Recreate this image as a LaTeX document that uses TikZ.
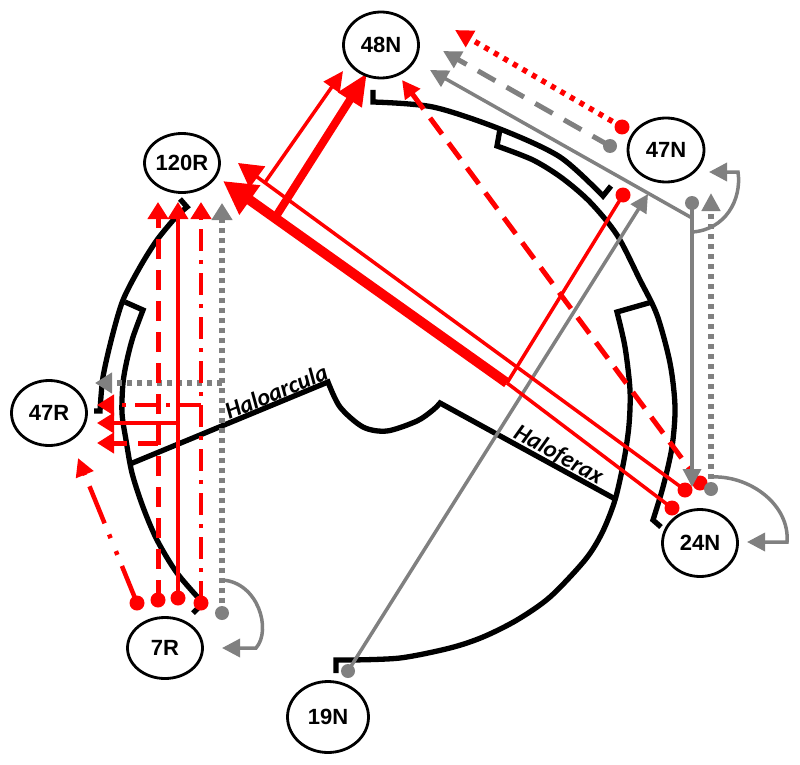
\documentclass[tikz,border=0pt]{standalone}
\usepackage{fontspec}
\setmainfont{Liberation Sans}
\newfontfamily\carl{Carlito}
\usetikzlibrary{arrows.meta,calc,shapes.geometric}
\definecolor{myred}{RGB}{255,0,0}
\definecolor{mygray}{RGB}{128,128,128}
\begin{document}
\begin{tikzpicture}[x=1pt,y=-1pt,
  arcline/.style={line width=5.3pt, black, line join=miter},
  lab/.style={draw, line width=2.8pt, ellipse, fill=white, font=\bfseries\fontsize{22pt}{22pt}\selectfont, minimum width=75pt, minimum height=64pt, inner sep=0pt},
  gen/.style={font=\carl\bfseries\itshape\fontsize{24pt}{24pt}\selectfont, inner sep=1.5pt, anchor=south},
  rdot/.style={circle, fill=myred, minimum size=15pt, inner sep=0pt},
  gdot/.style={circle, fill=mygray, minimum size=14pt, inner sep=0pt},
  tip/.style={-{Triangle[length=18pt,width=18pt]}},
  vtip/.style={-{Triangle[length=17pt,width=20pt]}},
  rline/.style={myred, line width=3.5pt},
  gline/.style={mygray, line width=3.5pt},
  rdashed/.style={myred, line width=5pt, dash pattern=on 20pt off 11pt},
  gdashed/.style={mygray, line width=5pt, dash pattern=on 20pt off 13pt},
  gdotted/.style={mygray, line width=5.5pt, dash pattern=on 5pt off 5pt},
  rdotted/.style={myred, line width=5.5pt, dash pattern=on 5pt off 6pt},
  rdashdot/.style={myred, line width=4.5pt, dash pattern=on 22pt off 9pt on 4pt off 9pt},
  rdashdotdot/.style={myred, line width=4.5pt, dash pattern=on 40pt off 12pt on 4pt off 14pt on 4pt off 12pt}
]
\useasboundingbox (0,0) rectangle (800,765);

% ---------- genome arcs ----------
\draw[arcline] (373,90) -- (373,102) -- plot[smooth] coordinates {(373,102) (433,107) (500,129) (560,157) (603,196)} -- (611,186);
\draw[arcline] (500,129) -- (497,146) -- plot[smooth] coordinates {(497,146) (533,160) (562,178) (590,202) (617,235) (640,280) (657,315) (670,363) (675,407) (672,447) (663,487) (653,520)} -- (661,527);
\draw[arcline] (652,302) -- (617,312) -- plot[smooth] coordinates {(617,312) (625,347) (630,390) (629,425) (624,460) (615,500) (602,533) (585,560) (550,597) (517,620) (483,637) (450,648) (400,658) (350,660)} -- (336,660) -- (336,673);
\draw[arcline] (193,613) -- (203,603) -- plot[smooth] coordinates {(203,603) (177,573) (157,540) (143,507) (132,473) (126,440) (122,413) (123,383) (127,360) (133,337) (143,310)} -- (125,302);
\draw[arcline] (94,411) -- (100,411) -- plot[smooth] coordinates {(100,411) (103,377) (112,337) (123,300) (140,267) (157,240) (176,217) (187,207)} -- (180,199);

% centre divider
\draw[arcline] (130,464) -- (328,382) -- plot[smooth] coordinates {(328,382) (340,407) (363,427) (387,431) (417,421) (433,410) (440,403)} -- (617,500);
\node[gen, rotate=22.3] (hac) at (280,401) {Haloarcula};
\node[gen, rotate=-28.7] (hfx) at (553,465) {Haloferax};

% ---------- coordinates ----------
\coordinate (J) at (507,383);
\coordinate (t120thick) at (223,181);
\coordinate (t120thin) at (238,163);
\coordinate (t48thick) at (367,73);
\coordinate (t48thin) at (343,71);
\coordinate (t48rdash) at (402,80);
\coordinate (t48gsol) at (430,70);
\coordinate (t48gdash) at (443,51);
\coordinate (t48rdot) at (455,30);
\coordinate (t47gsol) at (648,194);
\coordinate (t47gdot) at (711,193);
\coordinate (t47loop) at (709,172);
\coordinate (t24gsol) at (692,487);
\coordinate (t24loop) at (747,542);
\coordinate (t7loop) at (222,648);
\coordinate (ta) at (158,202);
\coordinate (tb) at (178,202);
\coordinate (tc) at (201,202);
\coordinate (td) at (222,203);
\coordinate (ba) at (158,443);
\coordinate (bb) at (178,423);
\coordinate (bc) at (201,405);
\coordinate (bd) at (222,383);
\coordinate (ua) at (97,443);
\coordinate (ub) at (97,423);
\coordinate (uc) at (97,405);
\coordinate (ud) at (95,383);
\coordinate (ue) at (78,458);
\coordinate (gb) at (692,218);
\coordinate (gl) at (692,232);
\coordinate (gl24) at (711,477);
\coordinate (gl7) at (222,580);

% ---------- dots ----------
\node[rdot] (r7a) at (137,603) {};
\node[rdot] (r7b) at (158,600) {};
\node[rdot] (r7c) at (178,598) {};
\node[rdot] (r7d) at (201,603) {};
\node[gdot] (g7) at (222,613) {};
\node[gdot] (g19) at (348,671) {};
\node[rdot] (r47a) at (622,127) {};
\node[gdot] (g47a) at (610,146) {};
\node[rdot] (r47b) at (623,195) {};
\node[gdot] (g47b) at (692,203) {};
\node[rdot] (r24a) at (685,490) {};
\node[rdot] (r24b) at (700,483) {};
\node[rdot] (r24c) at (672,508) {};
\node[gdot] (g24) at (711,489) {};

\coordinate (K) at ($(J)!0.817!(t120thick)$);
\coordinate (L) at ($(r24a)!0.94!(t120thin)$);

% ---------- left (7R / 120R / 47R) ----------
\draw[gdotted, vtip] (g7.center) -- (td);
\draw[gdotted, vtip] (bd) -- (ud);
\draw[gline, tip] (gl7) .. controls (258,582) and (272,630) .. (256,648) -- (t7loop);
\draw[rdashed, vtip] (r7b.center) -- (ta);
\draw[rdashed, vtip] (ba) -- (ua);
\draw[rline, vtip] (r7c.center) -- (tb);
\draw[rline, vtip] (bb) -- (ub);
\draw[rdashdot, vtip] (r7d.center) -- (tc);
\draw[rdashdot, vtip] (bc) -- (uc);
\draw[rdashdotdot, tip] (r7a.center) -- (ue);

% ---------- right ----------
\draw[gline, tip] (g19.center) -- (t47gsol);
\draw[rline] (r47b.center) -- (J);
\draw[rline] (r24c.center) -- (J);
\draw[myred, line width=10pt, -{Triangle[length=33pt,width=34pt]}] (J) -- (t120thick);
\draw[myred, line width=8pt, -{Triangle[length=32pt,width=26pt]}] (K) -- (t48thick);
\draw[rline, -{Triangle[length=24pt,width=26pt]}] (r24a.center) -- (t120thin);
\draw[rline, -{Triangle[length=20pt,width=19pt]}] (L) -- (t48thin);
\draw[rdashed, tip] (r24b.center) -- (t48rdash);
\draw[rdotted, tip] (r47a.center) -- (t48rdot);
\draw[gdashed, tip] (g47a.center) -- (t48gdash);
\draw[gline, tip] (g47b.center) -- (t24gsol);
\draw[gline, tip] (gb) -- (t48gsol);
\draw[gline, tip] (gl) .. controls (725,230) and (742,200) .. (738,172) -- (t47loop);
\draw[gdotted, tip] (g24.center) -- (t47gdot);
\draw[gline, tip] (gl24) .. controls (750,475) and (790,505) .. (787,542) -- (t24loop);

% ---------- labels ----------
\node[lab, minimum height=66pt] (n48N) at (381,45) {48N};
\node[lab, minimum height=59pt] (n120R) at (182,163) {120R};
\node[lab, minimum width=76pt] (n47N) at (666,150) {47N};
\node[lab, minimum height=65pt] (n47R) at (49,413) {47R};
\node[lab, minimum height=67pt] (n24N) at (700,543) {24N};
\node[lab, minimum height=61pt] (n7R) at (165,648) {7R};
\node[lab, minimum width=81pt, minimum height=71pt] (n19N) at (328,717) {19N};
\end{tikzpicture}
\end{document}
